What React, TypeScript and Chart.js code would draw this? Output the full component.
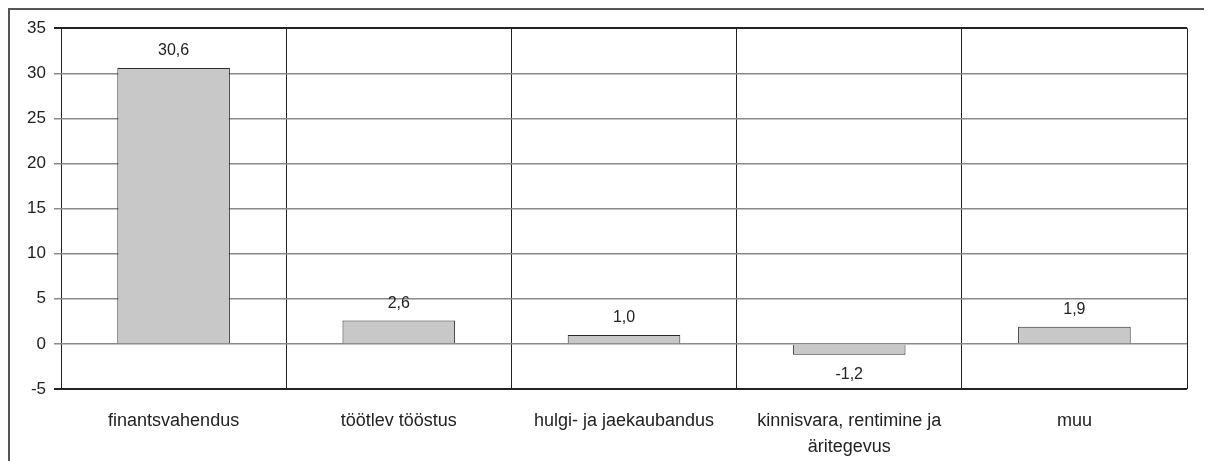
import React, { useEffect, useRef } from "react";
import { Chart, registerables } from "chart.js";

Chart.register(...registerables);

const categories: (string | string[])[] = [
  "finantsvahendus",
  "töötlev tööstus",
  "hulgi- ja jaekaubandus",
  ["kinnisvara, rentimine ja", "äritegevus"],
  "muu",
];
const values: number[] = [30.6, 2.6, 1.0, -1.2, 1.9];
const valueLabels: string[] = ["30,6", "2,6", "1,0", "-1,2", "1,9"];
const yMin = -5;
const yMax = 35;
const yStep = 5;

const FONT = "'Liberation Sans', Arial, sans-serif";

const dataLabelPlugin = {
  id: "dataLabels",
  afterDatasetsDraw(chart: any) {
    const ctx = chart.ctx;
    const meta = chart.getDatasetMeta(0);
    ctx.save();
    ctx.font = `16px ${FONT}`;
    ctx.fillStyle = "#222";
    ctx.textAlign = "center";
    ctx.textBaseline = "middle";
    meta.data.forEach((bar: any, i: number) => {
      const v = values[i];
      const y = v >= 0 ? bar.y - 17 : bar.y + 20;
      ctx.fillText(valueLabels[i], bar.x, y);
    });
    ctx.restore();
  },
};

export default function App() {
  const ref = useRef<HTMLCanvasElement>(null);
  useEffect(() => {
    if (!ref.current) return;
    const chart = new Chart(ref.current, {
      type: "bar",
      data: {
        labels: categories as any,
        datasets: [
          {
            data: values,
            backgroundColor: "#c8c8c8",
            borderColor: "#2a2a2a",
            borderWidth: 1,
            barPercentage: 0.5,
            categoryPercentage: 1,
          },
        ],
      },
      options: {
        animation: false,
        responsive: false,
        maintainAspectRatio: false,
        layout: { padding: { left: 0, top: 17, right: 25, bottom: 0 } },
        plugins: {
          legend: { display: false },
          tooltip: { enabled: false },
        },
        scales: {
          x: {
            grid: {
              display: true,
              offset: true,
              drawTicks: false,
              color: "#222",
              lineWidth: 1,
            },
            border: { display: false },
            ticks: {
              color: "#222",
              font: { family: FONT, size: 18, lineHeight: 1.45 },
              padding: 19,
              maxRotation: 0,
              autoSkip: false,
            },
            afterFit: (s: any) => {
              s.height = 72;
            },
          },
          y: {
            min: yMin,
            max: yMax,
            grid: {
              color: (c: any) =>
                c.tick && (c.tick.value === yMax || c.tick.value === yMin) ? "#222" : "#8a8a8a",
              lineWidth: (c: any) =>
                c.tick && (c.tick.value === yMax || c.tick.value === yMin) ? 2 : 1.5,
              tickLength: 7,
              drawTicks: true,
            },
            border: { display: false },
            ticks: {
              stepSize: yStep,
              color: "#222",
              font: { family: FONT, size: 17 },
              padding: 8,
            },
            afterFit: (s: any) => {
              s.width = 51;
            },
          },
        },
      },
      plugins: [dataLabelPlugin],
    });
    return () => chart.destroy();
  }, []);
  return (
    <div
      style={{
        width: 1202,
        height: 451,
        borderTop: "2px solid #555",
        borderLeft: "2px solid #555",
        overflow: "hidden",
      }}
    >
      <canvas ref={ref} width={1202} height={451} style={{ display: "block" }} />
    </div>
  );
}
